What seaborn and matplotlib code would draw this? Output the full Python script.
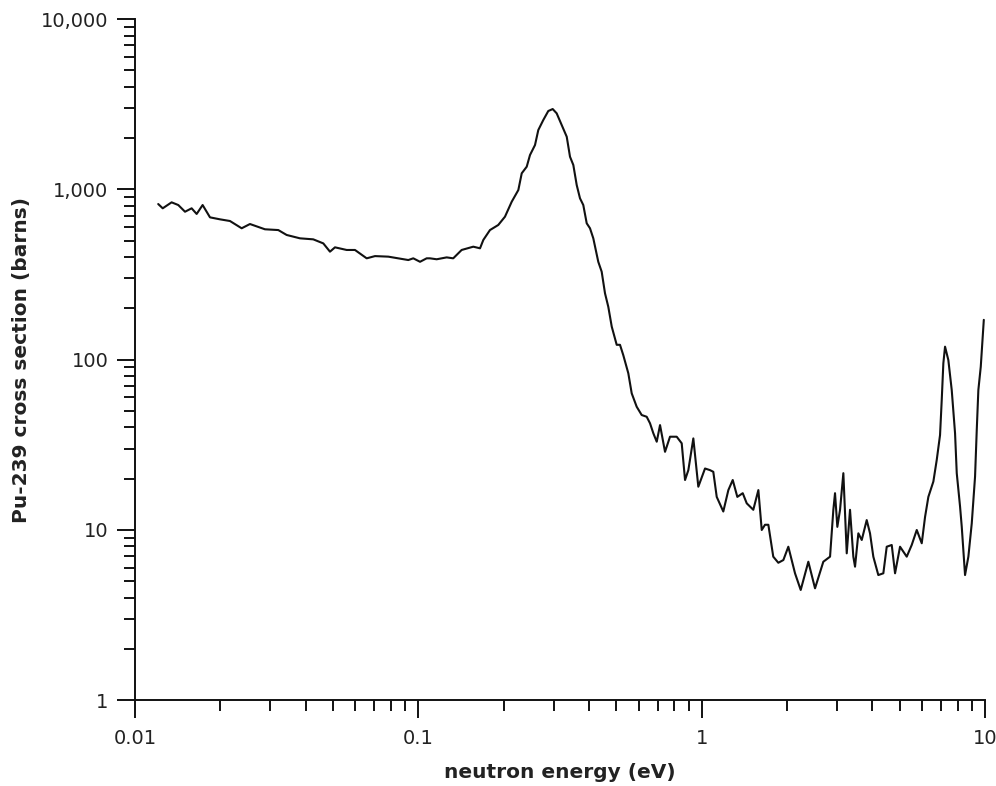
import numpy as np
import pandas as pd
import matplotlib
matplotlib.use("Agg")
import matplotlib.pyplot as plt
import matplotlib.ticker as mticker
import seaborn as sns

energy_ev = [
    0.01208, 0.01253, 0.01347, 0.01422, 0.01502, 0.01585, 0.01651, 0.01733, 0.01840, 0.01995,
    0.02164, 0.02380, 0.02546, 0.02876, 0.03205, 0.03430, 0.03823, 0.04258, 0.04620, 0.04878,
    0.05081, 0.05587, 0.05977, 0.06573, 0.07033, 0.07834, 0.08497, 0.09218, 0.09598, 0.1014,
    0.1070, 0.1099, 0.1161, 0.1259, 0.1328, 0.1422, 0.1563, 0.1651, 0.1696, 0.1790,
    0.1915, 0.2022, 0.2136, 0.2254, 0.2317, 0.2413, 0.2478, 0.2581, 0.2651, 0.2761,
    0.2875, 0.2980, 0.3078, 0.3206, 0.3340, 0.3430, 0.3524, 0.3622, 0.3720, 0.3821,
    0.3929, 0.4035, 0.4145, 0.4316, 0.4437, 0.4558, 0.4682, 0.4815, 0.5013, 0.5149,
    0.5289, 0.5509, 0.5663, 0.5897, 0.6142, 0.6397, 0.6572, 0.6750, 0.6940, 0.7129,
    0.7424, 0.7731, 0.8163, 0.8502, 0.8735, 0.8973, 0.9344, 0.9730, 1.0275, 1.070,
    1.099, 1.130, 1.192, 1.242, 1.287, 1.336, 1.396, 1.442, 1.521, 1.585,
    1.629, 1.673, 1.719, 1.789, 1.864, 1.942, 2.022, 2.135, 2.236, 2.379,
    2.512, 2.687, 2.838, 2.915, 2.955, 3.011, 3.078, 3.162, 3.250, 3.338,
    3.429, 3.477, 3.572, 3.672, 3.823, 3.927, 4.034, 4.201, 4.376, 4.498,
    4.685, 4.813, 5.012, 5.292, 5.511, 5.741, 5.979, 6.142, 6.309, 6.571,
    6.753, 6.937, 7.033, 7.126, 7.225, 7.421, 7.628, 7.837, 7.946, 8.162,
    8.276, 8.500, 8.733, 8.976, 9.220, 9.348, 9.471, 9.658, 9.900,
]

cross_section_barns = [
    819, 773, 838, 808, 738, 773, 716, 808, 684, 666,
    651, 590, 625, 582, 576, 539, 515, 508, 481, 430,
    456, 440, 440, 393, 405, 402, 393, 384, 393, 375,
    393, 393, 388, 398, 393, 440, 460, 450, 504, 576,
    617, 690, 845, 990, 1241, 1357, 1589, 1819, 2228, 2552,
    2882, 2960, 2793, 2385, 2035, 1553, 1388, 1059, 885, 808,
    631, 590, 515, 375, 328, 245, 204, 156, 122, 122,
    106, 83.0, 63.3, 52.8, 47.2, 46.1, 42.2, 36.9, 32.9, 41.2,
    28.7, 35.2, 35.2, 32.2, 19.6, 22.4, 34.4, 17.9, 22.9, 22.4,
    21.9, 15.6, 12.8, 17.1, 19.6, 15.6, 16.4, 14.3, 13.1, 17.1,
    9.97, 10.7, 10.7, 6.95, 6.40, 6.64, 7.95, 5.55, 4.43, 6.49,
    4.53, 6.49, 6.95, 13.1, 16.4, 10.4, 13.1, 21.5, 7.27, 13.1,
    6.95, 6.07, 9.53, 8.71, 11.4, 9.53, 6.95, 5.42, 5.55, 7.95,
    8.14, 5.55, 7.95, 6.95, 8.14, 9.97, 8.33, 11.9, 15.6, 19.2,
    25.7, 36.0, 57.8, 95.0, 119, 99.3, 66.2, 36.9, 21.5, 13.7,
    10.4, 5.42, 6.95, 10.9, 20.5, 38.5, 66.2, 90.7, 171,
]

x_ticks = [0.01, 0.1, 1, 10]
x_tick_labels = ["0.01", "0.1", "1", "10"]
y_ticks = [1, 10, 100, 1000, 10000]
y_tick_labels = ["1", "10", "100", "1,000", "10,000"]

df = pd.DataFrame({"energy": energy_ev, "sigma": cross_section_barns})

sns.set_style("ticks")
plt.rcParams["font.family"] = ["DejaVu Sans"]

fig = plt.figure(figsize=(9.96, 7.86), dpi=100)
ax = fig.add_axes([0.1355, 0.1094, 0.8535, 0.8664])

sns.lineplot(data=df, x="energy", y="sigma", ax=ax, color="#111111",
             linewidth=1.5, sort=False, estimator=None)

ax.set_xscale("log")
ax.set_yscale("log")
ax.set_xlim(0.01, 10)
ax.set_ylim(1, 10000)

ax.set_xticks(x_ticks)
ax.set_xticklabels(x_tick_labels)
ax.set_yticks(y_ticks)
ax.set_yticklabels(y_tick_labels)
ax.xaxis.set_minor_locator(mticker.LogLocator(base=10, subs=np.arange(2, 10)))
ax.yaxis.set_minor_locator(mticker.LogLocator(base=10, subs=np.arange(2, 10)))
ax.xaxis.set_minor_formatter(mticker.NullFormatter())
ax.yaxis.set_minor_formatter(mticker.NullFormatter())

ax.tick_params(axis="x", which="major", pad=8)
ax.tick_params(axis="y", which="major", pad=6)
ax.tick_params(axis="both", which="major", direction="out", length=13, width=1.4,
               color="#111111", labelsize=14, labelcolor="#222222")
ax.tick_params(axis="both", which="minor", direction="out", length=8, width=1.4,
               color="#111111")

for s in ["top", "right"]:
    ax.spines[s].set_visible(False)
for s in ["left", "bottom"]:
    ax.spines[s].set_linewidth(1.4)
    ax.spines[s].set_color("#111111")

ax.set_xlabel("neutron energy (eV)", fontsize=14.5, fontweight="bold", color="#222222", labelpad=11)
ax.set_ylabel("Pu-239 cross section (barns)", fontsize=14.5, fontweight="bold", color="#222222", labelpad=7)

fig.savefig("out.png", dpi=100)
